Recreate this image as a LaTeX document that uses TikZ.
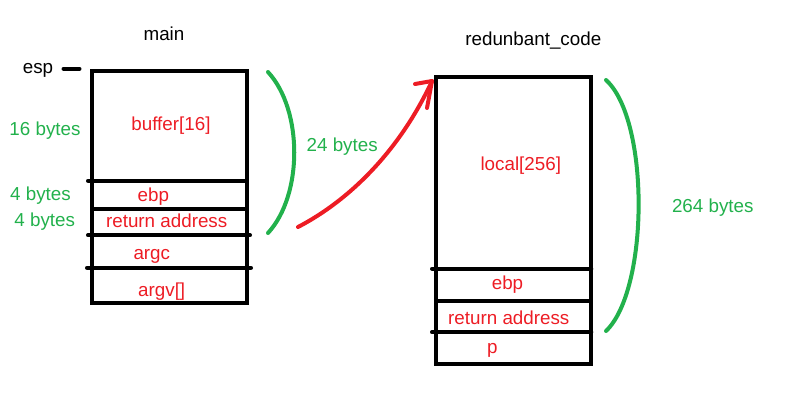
\documentclass[tikz,border=0pt]{standalone}
\usepackage{fontspec}
\setmainfont{Liberation Sans}
\definecolor{pred}{RGB}{237,28,36}
\definecolor{pgreen}{RGB}{34,177,76}
\begin{document}
\begin{tikzpicture}[x=1pt,y=-1pt,
  txt/.style={inner sep=0pt,anchor=base,font=\fontsize{18.8}{21}\selectfont},
  rtxt/.style={txt,text=pred},
  gtxt/.style={txt,text=pgreen},
  btxt/.style={txt,text=black},
  boxline/.style={line width=4pt,line cap=rect},
  divline/.style={line width=4pt,line cap=round},
  bracket/.style={draw=pgreen,line width=4pt,line cap=round},
  jump/.style={draw=pred,line width=4pt,line cap=round,line join=round}]
\useasboundingbox (0,0) rectangle (792,405);
% ---- main frame ----
\coordinate (m1) at (92,71.3);
\coordinate (m2) at (246.5,303);
\draw[boxline] (m1) rectangle (m2);
\draw[divline] (88,180.7) -- (246.5,180.7);
\draw[boxline] (92,209.3) -- (246.5,209.3);
\draw[divline] (88,235.3) -- (250,235.3);
\draw[divline] (87,267.7) -- (251,267.7);
\coordinate (espA) at (63.5,68.7);
\coordinate (espB) at (79.5,68.7);
\draw[divline] (espA) -- (espB);
\node[btxt] (main) at (164,40) {main};
\node[btxt] (esp) at (38,73.3) {esp};
\node[gtxt] (g16) at (45,135.3) {16 bytes};
\node[rtxt] (buf) at (171,130.7) {buffer[16]};
\node[gtxt] (g4a) at (40.5,200.3) {4 bytes};
\node[rtxt] (ebp1) at (153.3,201) {ebp};
\node[gtxt] (g4b) at (44.7,226.7) {4 bytes};
\node[rtxt] (ret1) at (166.7,227.3) {return address};
\node[rtxt] (argc) at (151.8,259.3) {argc};
\node[rtxt] (argv) at (161.7,296.7) {argv[]};
% ---- redunbant_code frame ----
\coordinate (r1) at (436.3,76.7);
\coordinate (r2) at (591.3,364);
\draw[boxline] (r1) rectangle (r2);
\draw[divline] (432,268.7) -- (591.3,268.7);
\draw[boxline] (436.3,300.5) -- (591.3,300.5);
\draw[divline] (432,332.2) -- (591.3,332.2);
\node[btxt] (rc) at (533.3,45) {redunbant\_code};
\node[rtxt] (loc) at (520.8,170) {local[256]};
\node[rtxt] (ebp2) at (507.5,289.3) {ebp};
\node[rtxt] (ret2) at (508.8,324.3) {return address};
\node[rtxt] (p) at (492.3,353.3) {p};
% ---- brackets ----
\coordinate (b1s) at (268,72);
\coordinate (b1e) at (268,233);
\draw[bracket] (b1s) .. controls (303,110) and (303,195) .. (b1e);
\node[gtxt] (g24) at (342.2,151) {24 bytes};
\coordinate (b2s) at (606,80);
\coordinate (b2e) at (606,331);
\draw[bracket] (b2s) .. controls (650,120) and (649,290) .. (b2e);
\node[gtxt] (g264) at (712.8,212.3) {264 bytes};
% ---- red arrow ----
\coordinate (as) at (298,227);
\coordinate (tip) at (432,81);
\draw[jump] (as) .. controls (350,200) and (400,150) .. (tip);
\draw[jump] (415,84) -- (tip) -- (427,108);
\end{tikzpicture}
\end{document}
